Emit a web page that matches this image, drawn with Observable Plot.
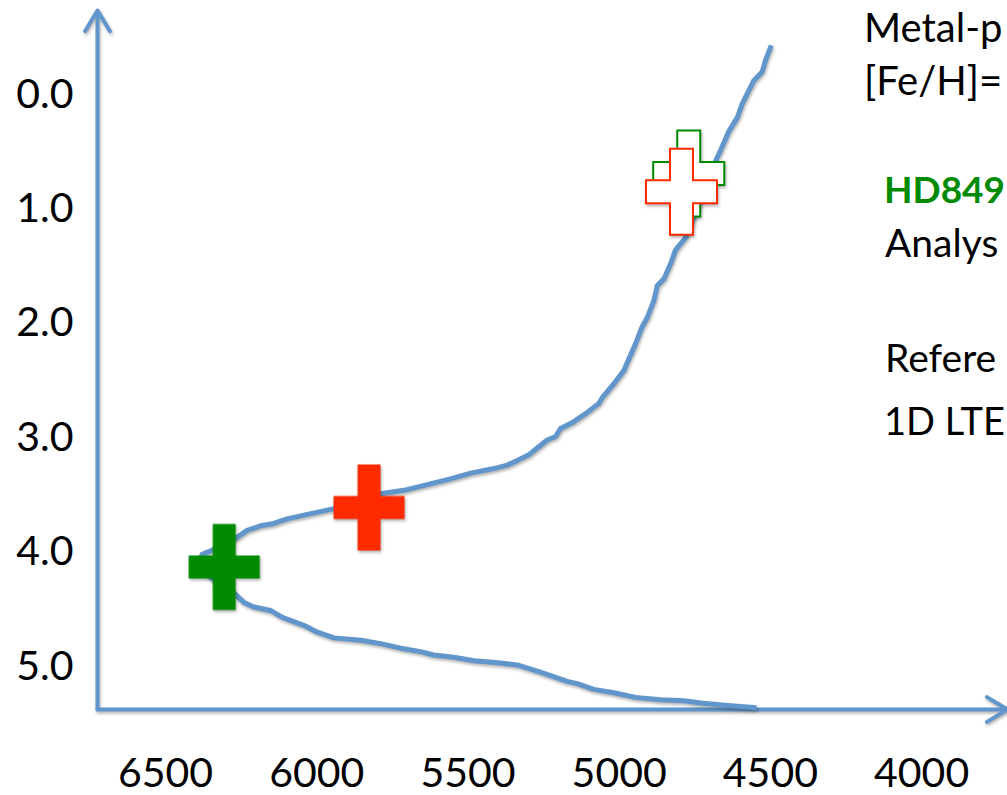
<!DOCTYPE html>
<html>
<head>
<meta charset="utf-8">
<script src="https://cdn.jsdelivr.net/npm/d3@7"></script>
<script src="https://cdn.jsdelivr.net/npm/@observablehq/plot@0.6"></script>
<style>
  html, body { margin: 0; padding: 0; background: #fff; overflow: hidden; }
  #chart { position: relative; width: 1007px; height: 795px; }
</style>
</head>
<body>
<div id="chart"></div>
<script>
// Isochrone track: effective temperature (K) and surface gravity (log g),
// from the lower main sequence, through the turn-off, up the giant branch.
const teff = [4546, 4642, 4731, 4786, 4863, 4946, 5018, 5084, 5139, 5172,
              5227, 5271, 5332, 5392, 5480, 5547, 5613, 5657, 5723, 5789,
              5855, 5943, 5998, 6043, 6114, 6153, 6208, 6241, 6269, 6351,
              6388, 6379, 6351, 6269, 6230, 6186, 6142, 6098, 6031, 5943,
              5789, 5712, 5635, 5558, 5491, 5414, 5370, 5337, 5299, 5271,
              5238, 5210, 5194, 5150, 5106, 5067, 5056, 5018, 4984, 4971,
              4946, 4924, 4907, 4885, 4874, 4852, 4830, 4814, 4780, 4747,
              4714, 4681, 4665, 4637, 4609, 4593, 4576, 4555, 4527, 4516, 4497];
const logg = [5.36, 5.34, 5.32, 5.30, 5.29, 5.27, 5.23, 5.20, 5.15, 5.13,
              5.08, 5.04, 4.99, 4.97, 4.95, 4.92, 4.90, 4.87, 4.84, 4.80,
              4.77, 4.75, 4.70, 4.64, 4.57, 4.51, 4.48, 4.44, 4.37, 4.22,
              4.09, 4.02, 3.99, 3.88, 3.81, 3.77, 3.75, 3.71, 3.67, 3.62,
              3.49, 3.46, 3.41, 3.36, 3.31, 3.27, 3.24, 3.20, 3.15, 3.09,
              3.02, 2.99, 2.92, 2.86, 2.78, 2.70, 2.65, 2.53, 2.41, 2.33,
              2.18, 2.03, 1.95, 1.80, 1.67, 1.61, 1.48, 1.36, 1.25, 1.03,
              0.80, 0.58, 0.49, 0.32, 0.20, 0.08, -0.01, -0.12, -0.20, -0.30, -0.43];

// Stellar parameters (drawn as crosses)
const starTeff  = [4770, 4794, 6306, 5827];
const starLogg  = [0.69, 0.85, 4.13, 3.61];
const starGroup = ["HD849", "Refere", "HD849", "Refere"];
const starKind  = ["open", "open", "solid", "solid"];

// Axis ticks
const xTicks = [6500, 6000, 5500, 5000, 4500, 4000];
const yTicks = [0, 1, 2, 3, 4, 5];

// Text beside the diagram
const noteLines = ["Metal-p", "[Fe/H]=", "HD849", "Analys", "Refere", "1D LTE"];

const W = 1007, H = 795;
const xDomain = [6725, 3716];
const yDomain = [5.376, -0.734];
const blue = "#6096cb";
const groupColor = {HD849: "#008a00", Refere: "#ff2a00"};

const track = teff.map((t, i) => ({teff: t, logg: logg[i]}));
const stars = starTeff.map((t, i) => ({teff: t, logg: starLogg[i], group: starGroup[i], kind: starKind[i]}));
const openStars = stars.filter(d => d.kind === "open");
const solidStars = stars.filter(d => d.kind === "solid");

// Slightly tall plus sign; r is half of the full height.
const cross = {
  draw(ctx, size) {
    const r = Math.sqrt(size / Math.PI);
    const h = r, w = 0.826 * r, t = 0.267 * r;
    ctx.moveTo(-t, -h); ctx.lineTo(t, -h); ctx.lineTo(t, -t); ctx.lineTo(w, -t);
    ctx.lineTo(w, t); ctx.lineTo(t, t); ctx.lineTo(t, h); ctx.lineTo(-t, h);
    ctx.lineTo(-t, t); ctx.lineTo(-w, t); ctx.lineTo(-w, -t); ctx.lineTo(-t, -t);
    ctx.closePath();
  }
};

const axes = [
  {x1: xDomain[0], y1: yDomain[0], x2: xDomain[0], y2: yDomain[1]},
  {x1: xDomain[0], y1: yDomain[0], x2: xDomain[1], y2: yDomain[0]}
];

const chart = Plot.plot({
  width: W,
  height: H,
  marginLeft: 97,
  marginRight: 0,
  marginTop: 10,
  marginBottom: 86,
  style: {fontFamily: "Lato, sans-serif", fontSize: "41px", color: "#000", background: "#fff", overflow: "visible"},
  x: {domain: xDomain, ticks: xTicks, tickSize: 0, tickPadding: 48, tickFormat: d => String(d), label: null},
  y: {domain: yDomain, ticks: yTicks, tickSize: 0, tickPadding: 24, tickFormat: d => d.toFixed(1), label: null},
  marks: [
    Plot.arrow(axes, {x1: "x1", y1: "y1", x2: "x2", y2: "y2", stroke: blue, strokeWidth: 4, headLength: 9, headAngle: 62}),
    Plot.line(track, {x: "teff", y: "logg", stroke: blue, strokeWidth: 5, strokeLinejoin: "round", strokeLinecap: "butt"}),
    Plot.dot(openStars, {x: "teff", y: "logg", symbol: cross, r: 43, fill: "#fff", stroke: d => groupColor[d.group], strokeWidth: 2}),
    Plot.dot(solidStars, {x: "teff", y: "logg", symbol: cross, r: 43, fill: d => groupColor[d.group], stroke: "none"})
  ]
});

const svg = d3.select(chart);
svg.selectAll('g[aria-label="line"], g[aria-label="dot"], g[aria-label="arrow"]')
  .style("filter", "drop-shadow(1.5px 2.5px 1.5px rgba(0,0,0,0.3))");

// Side notes
const notePos = [
  {x: 864, y: 42, size: 40, fill: "#000", weight: "normal"},
  {x: 864, y: 95, size: 40, fill: "#000", weight: "normal"},
  {x: 884, y: 203, size: 37, fill: "#008a00", weight: "bold"},
  {x: 885, y: 257, size: 39, fill: "#000", weight: "normal"},
  {x: 885, y: 372, size: 39, fill: "#000", weight: "normal"},
  {x: 884, y: 435, size: 38, fill: "#000", weight: "normal"}
];
const notes = svg.append("g")
  .attr("font-family", "Lato, sans-serif")
  .attr("text-anchor", "start");
noteLines.forEach((txt, i) => {
  const p = notePos[i];
  notes.append("text")
    .attr("x", p.x).attr("y", p.y)
    .attr("font-size", p.size)
    .attr("fill", p.fill)
    .attr("font-weight", p.weight)
    .text(txt);
});

document.getElementById("chart").appendChild(chart);
</script>
</body>
</html>
